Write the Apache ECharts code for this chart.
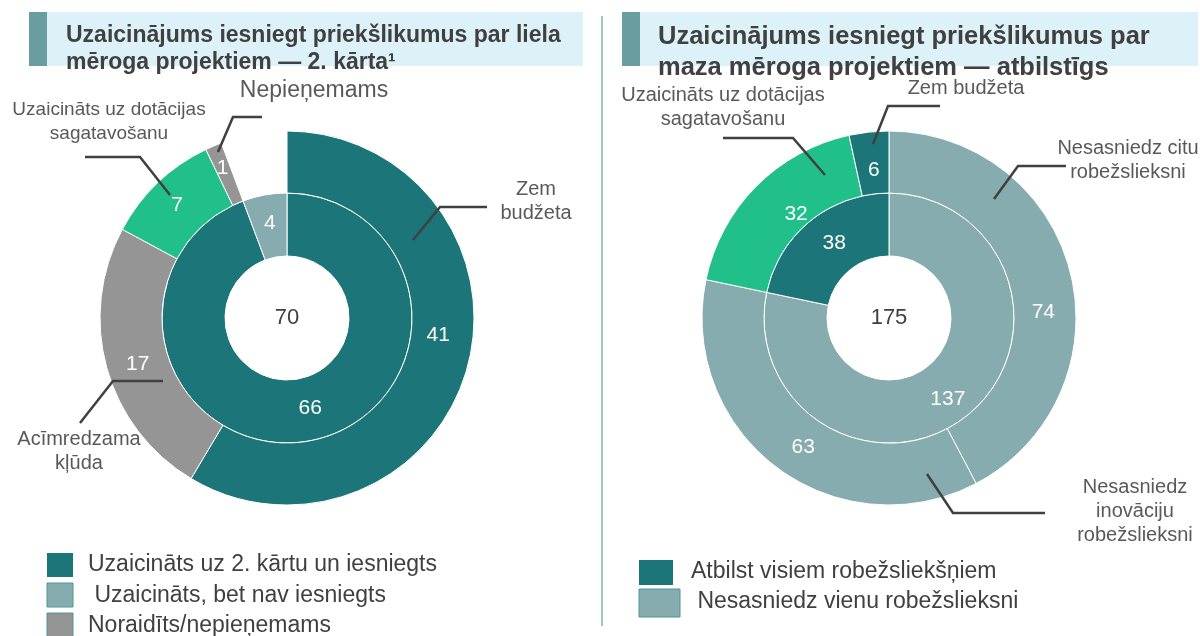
<!DOCTYPE html>
<html>
<head>
<meta charset="utf-8">
<script src="https://cdn.jsdelivr.net/npm/echarts@6/dist/echarts.min.js"></script>
<style>
html,body{margin:0;padding:0;background:#fff;}
#chart{width:1200px;height:636px;}
</style>
</head>
<body>
<div id="chart"></div>
<script>
// ---------------- DATA ----------------
const leftInnerNames = ['Uzaicināts uz 2. kārtu un iesniegts', 'Uzaicināts, bet nav iesniegts'];
const leftInnerValues = [66, 4];
const leftOuterNames = ['Zem\nbudžeta', 'Acīmredzama\nkļūda', 'Uzaicināts uz dotācijas\nsagatavošanu', 'Nepieņemams', ''];
const leftOuterValues = [41, 17, 7, 1, 4];

const rightInnerNames = ['Nesasniedz vienu robežslieksni', 'Atbilst visiem robežsliekšņiem'];
const rightInnerValues = [137, 38];
const rightOuterNames = ['Nesasniedz citu\nrobežslieksni', 'Nesasniedz\ninovāciju\nrobežslieksni', 'Uzaicināts uz dotācijas\nsagatavošanu', 'Zem budžeta'];
const rightOuterValues = [74, 63, 32, 6];

const leftTitleLines = ['Uzaicinājums iesniegt priekšlikumus par liela', 'mēroga projektiem — 2. kārta¹'];
const rightTitleLines = ['Uzaicinājums iesniegt priekšlikumus par', 'maza mēroga projektiem — atbilstīgs'];
const leftLegendLabels = ['Uzaicināts uz 2. kārtu un iesniegts', ' Uzaicināts, bet nav iesniegts', 'Noraidīts/nepieņemams'];
const rightLegendLabels = ['Atbilst visiem robežsliekšņiem', ' Nesasniedz vienu robežslieksni'];

// ---------------- STYLE / LAYOUT ----------------
const DARK = '#1B7579', LIGHT = '#86ACB0', GRAY = '#959595', GREEN = '#21C08B';
const FONT = '"Liberation Sans", Arial, sans-serif';
const leftInnerColors = [DARK, LIGHT];
const leftOuterColors = [DARK, GRAY, GREEN, GRAY, 'rgba(0,0,0,0)'];
const rightInnerColors = [LIGHT, DARK];
const rightOuterColors = [LIGHT, LIGHT, GREEN, DARK];
const leftLegendColors = [DARK, LIGHT, GRAY];
const rightLegendColors = [DARK, LIGHT];

const LEFT_CENTER = [287, 318];
const RIGHT_CENTER = [889, 318];
const R_HOLE = 62, R_MID = 125, R_OUT = 187;

// label placement relative to the pie centre: t = text anchor, p = leader line points, f = font size
const leftLabelPlacement = [
  {t: [249, -117], p: [[126, -78], [153, -111], [200, -111]], f: 20},
  {t: [-208, 133], p: [[-124, 63], [-174, 63], [-207, 105]], f: 20},
  {t: [-178, -196], p: [[-117, -123], [-147, -161], [-202, -161]], f: 19},
  {t: [27, -227], p: [[-69, -166], [-54, -201], [-25, -201]], f: 23},
  null
];
const rightLabelPlacement = [
  {t: [239, -158], p: [[105, -119], [129, -152], [177, -152]], f: 20},
  {t: [246, 193], p: [[38, 156], [64, 195], [156, 195]], f: 20},
  {t: [-166, -211], p: [[-64, -143], [-96, -180], [-166, -180]], f: 20},
  {t: [77, -230], p: [[-16, -174], [-1, -212], [51, -212]], f: 20}
];
// fine shifts of value labels inside outer ring sectors
const leftValueShift = [[-2, -25], [4, 4], [0, 2], [-2, -4], [0, 0]];
const rightValueShift = [[0, 32], [10, 2], [20, 8], [2, 10]];
const leftInnerShift = [[6, -5], [0, 0]];
const rightInnerShift = [[-2, 6], [6, 0]];

function sum(a) { return a.reduce((s, v) => s + v, 0); }

function buildPanel(center, innerNames, innerValues, innerColors, innerShift, outerNames, outerValues, outerColors, outerShift, placement) {
  const border = {borderColor: '#ffffff', borderWidth: 1};
  const valueLabel = {show: true, position: 'inside', color: '#ffffff', fontSize: 21, fontFamily: FONT, formatter: '{c}'};
  const inner = {
    type: 'pie', center: center, radius: [R_HOLE, R_MID], startAngle: 90, clockwise: true,
    avoidLabelOverlap: false, silent: true,
    label: valueLabel, labelLine: {show: false},
    data: innerValues.map((v, i) => ({value: v, name: innerNames[i],
      itemStyle: Object.assign({color: innerColors[i]}, border),
      label: {offset: innerShift[i]}}))
  };
  const outer = {
    type: 'pie', center: center, radius: [R_MID, R_OUT], startAngle: 90, clockwise: true,
    avoidLabelOverlap: false, silent: true,
    label: valueLabel, labelLine: {show: false},
    data: outerValues.map((v, i) => {
      const blank = outerNames[i] === '';
      return {
        value: v, name: outerNames[i],
        itemStyle: blank ? {color: outerColors[i], borderWidth: 0} : Object.assign({color: outerColors[i]}, border),
        label: {show: !blank, offset: outerShift[i]}
      };
    })
  };
  const names = {
    type: 'pie', center: center, radius: [R_MID, R_OUT], startAngle: 90, clockwise: true,
    avoidLabelOverlap: false, silent: true, z: 5,
    itemStyle: {color: 'rgba(0,0,0,0)', borderWidth: 0},
    label: {show: true, position: 'outside', formatter: '{b}', color: '#595959', fontSize: 20, lineHeight: 24, fontFamily: FONT, align: 'center'},
    labelLine: {show: true, lineStyle: {color: '#404040', width: 2.5}, length: 10, length2: 10},
    labelLayout: function (p) {
      const L = placement[p.dataIndex];
      if (!L) return {};
      return {
        x: center[0] + L.t[0], y: center[1] + L.t[1], align: 'center', verticalAlign: 'middle', fontSize: L.f,
        labelLinePoints: L.p.map(q => [center[0] + q[0], center[1] + q[1]])
      };
    },
    data: outerValues.map((v, i) => {
      const blank = outerNames[i] === '';
      return {value: v, name: outerNames[i], label: {show: !blank}, labelLine: {show: !blank}};
    })
  };
  const total = {
    type: 'pie', center: center, radius: [0, R_HOLE - 2], silent: true,
    itemStyle: {color: 'rgba(0,0,0,0)'},
    label: {show: true, position: 'center', formatter: '{c}', color: '#404040', fontSize: 22, fontFamily: FONT},
    labelLine: {show: false},
    data: [{value: sum(innerValues), name: 'total'}]
  };
  return [inner, outer, names, total];
}

function titleGraphic(x, y, w, h, textX, lines, fontSize, lineYs) {
  const els = [
    {type: 'rect', shape: {x: x, y: y, width: w, height: h}, style: {fill: '#DDF2F8'}, silent: true},
    {type: 'rect', shape: {x: x, y: y, width: 18, height: h}, style: {fill: '#6A9E9E'}, silent: true}
  ];
  lines.forEach((t, i) => {
    els.push({type: 'text', x: textX, y: lineYs[i], silent: true, z: 10,
      style: {text: t, fill: '#404040', font: 'bold ' + fontSize + 'px ' + FONT, verticalAlign: 'middle', align: 'left'}});
  });
  return els;
}

function legendGraphic(labels, colors, squares, textXs, textYs) {
  const els = [];
  labels.forEach((t, i) => {
    const s = squares[i];
    els.push({type: 'rect', shape: {x: s[0], y: s[1], width: s[2], height: s[3]}, silent: true,
      style: {fill: colors[i], stroke: i === 0 ? null : '#4F9698', lineWidth: i === 0 ? 0 : 1}});
    els.push({type: 'text', x: textXs[i], y: textYs[i], silent: true,
      style: {text: t, fill: '#404040', font: '23px ' + FONT, verticalAlign: 'middle', align: 'left'}});
  });
  return els;
}

const graphics = []
  .concat(titleGraphic(29, 12, 554, 54, 66, leftTitleLines, 23, [36, 63]))
  .concat(titleGraphic(622, 12, 576, 54, 658, rightTitleLines, 25.5, [37, 68]))
  .concat([{type: 'line', shape: {x1: 602, y1: 16, x2: 602, y2: 626}, style: {stroke: '#3C8C8C', lineWidth: 1}, silent: true}])
  .concat(legendGraphic(leftLegendLabels, leftLegendColors,
    [[47, 553, 26, 24], [47, 583, 26, 24], [47, 613, 26, 24]], [88, 88, 88], [565, 596, 626]))
  .concat(legendGraphic(rightLegendLabels, rightLegendColors,
    [[639, 560, 34, 25], [639, 589, 41, 28]], [691, 691], [572, 602]));

const chart = echarts.init(document.getElementById('chart'), null, {renderer: 'canvas'});
chart.setOption({
  animation: false,
  backgroundColor: '#ffffff',
  graphic: graphics,
  series: []
    .concat(buildPanel(LEFT_CENTER, leftInnerNames, leftInnerValues, leftInnerColors, leftInnerShift, leftOuterNames, leftOuterValues, leftOuterColors, leftValueShift, leftLabelPlacement))
    .concat(buildPanel(RIGHT_CENTER, rightInnerNames, rightInnerValues, rightInnerColors, rightInnerShift, rightOuterNames, rightOuterValues, rightOuterColors, rightValueShift, rightLabelPlacement))
});
</script>
</body>
</html>
